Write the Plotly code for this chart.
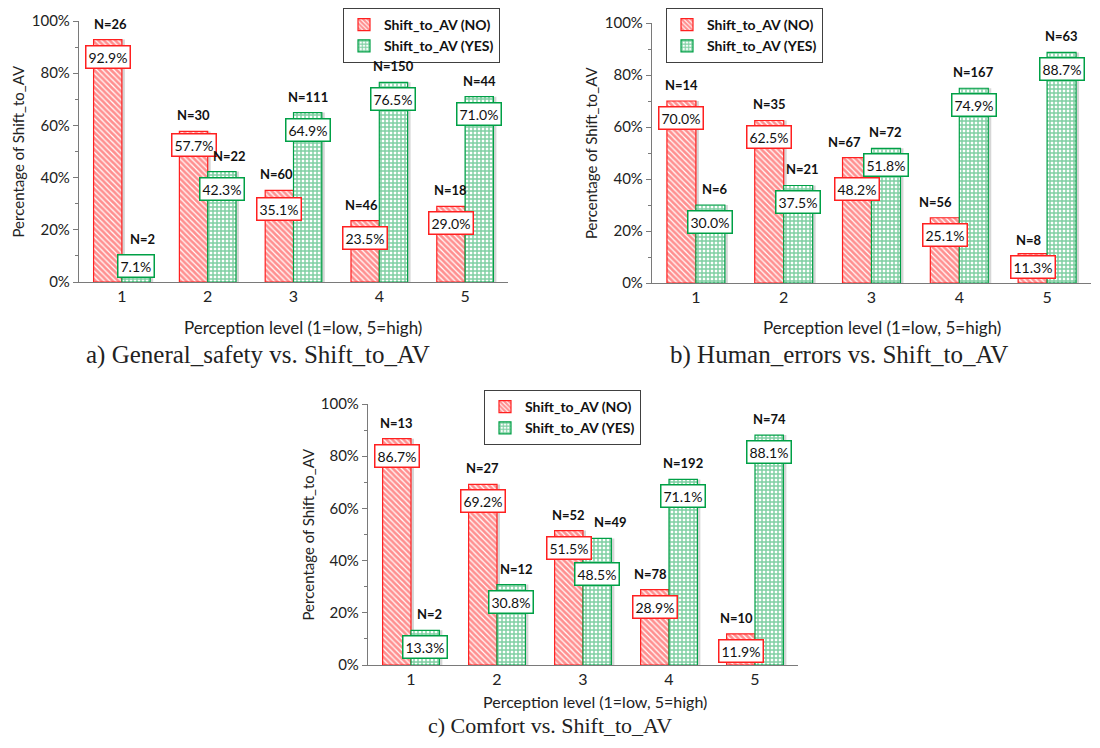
import plotly.graph_objects as go

levels = [1, 2, 3, 4, 5]
tick_labels = ["1", "2", "3", "4", "5"]

a_no = [92.9, 57.7, 35.1, 23.5, 29.0]
a_no_n = [26, 30, 60, 46, 18]
a_yes = [7.1, 42.3, 64.9, 76.5, 71.0]
a_yes_n = [2, 22, 111, 150, 44]

b_no = [70.0, 62.5, 48.2, 25.1, 11.3]
b_no_n = [14, 35, 67, 56, 8]
b_yes = [30.0, 37.5, 51.8, 74.9, 88.7]
b_yes_n = [6, 21, 72, 167, 63]

c_no = [86.7, 69.2, 51.5, 28.9, 11.9]
c_no_n = [13, 27, 52, 78, 10]
c_yes = [13.3, 30.8, 48.5, 71.1, 88.1]
c_yes_n = [2, 12, 49, 192, 74]

captions = ["a) General_safety vs. Shift_to_AV",
            "b) Human_errors vs. Shift_to_AV",
            "c) Comfort vs. Shift_to_AV"]
name_no = "Shift_to_AV (NO)"
name_yes = "Shift_to_AV (YES)"
y_title = "Percentage of Shift_to_AV"
x_title = "Perception level (1=low, 5=high)"

RED = "#ff2020"
GREEN = "#00a046"
FONT = "Lato"
OFF = 8              # page body margin
W, H = 1100 - 2 * OFF, 748 - 2 * OFF


def fx(px):
    return (px - OFF) / W


def fy(py):
    return 1 - (py - OFF) / H


# panel geometry in screen pixels: (x_left, x_right, y_top(100%), y_bottom(0%))
panels = [
    dict(px=(79, 508, 21, 282), no=a_no, non=a_no_n, yes=a_yes, yesn=a_yes_n,
         legend=(343, 8), xt=(303, 327), xtsize=17, cap=(258, 355), capsize=25),
    dict(px=(652, 1091, 23, 283), no=b_no, non=b_no_n, yes=b_yes, yesn=b_yes_n,
         legend=(666, 8), xt=(882, 327), xtsize=17, cap=(839, 355), capsize=25),
    dict(px=(368, 798, 404, 665), no=c_no, non=c_no_n, yes=c_yes, yesn=c_yes_n,
         legend=(484, 390), xt=(595, 701), xtsize=16, cap=(550, None), capsize=22),
]

# manual label nudges (panel, series 0=NO/1=YES, level index) -> pixels
box_nudge = {(0, 0, 1): 3, (0, 0, 2): -2, (1, 0, 2): -14, (2, 1, 2): -19}
n_xnudge = {(0, 1, 0): 6, (0, 1, 1): 8, (1, 1, 0): 5, (1, 1, 1): 4,
            (1, 0, 2): -13, (1, 0, 3): -9, (1, 0, 4): -4, (2, 1, 0): 4,
            (2, 1, 1): 5, (2, 1, 2): 13, (2, 0, 3): -4, (2, 0, 4): -4,
            (0, 0, 3): -4, (0, 0, 0): 3, (0, 0, 2): -3}

fig = go.Figure()
annotations = []
bw = 0.33

for i, p in enumerate(panels):
    sfx = "" if i == 0 else str(i + 1)
    xa, ya = "x" + sfx, "y" + sfx
    leg = "legend" + sfx
    x0, x1, yt, yb = p["px"]
    ppu_x = (x1 - x0) / 5.0
    ppu_y = (yb - yt) / 100.0
    sh = 3.0 / ppu_x
    # shadows
    for vals, off in ((p["no"], -bw), (p["yes"], 0.0)):
        fig.add_trace(go.Bar(x=levels, y=vals, offset=off + sh, width=bw,
                             marker=dict(color="rgba(0,0,0,0.16)", line=dict(width=0)),
                             showlegend=False, hoverinfo="skip", xaxis=xa, yaxis=ya))
    fig.add_trace(go.Bar(x=levels, y=p["no"], offset=-bw, width=bw, name=name_no,
                         marker=dict(color="white",
                                     line=dict(color=RED, width=1.2),
                                     pattern=dict(shape="\\", fgcolor=RED, bgcolor="white",
                                                  size=4, solidity=0.7)),
                         xaxis=xa, yaxis=ya, legend=leg))
    fig.add_trace(go.Bar(x=levels, y=p["yes"], offset=0.0, width=bw, name=name_yes,
                         marker=dict(color="white",
                                     line=dict(color=GREEN, width=1.2),
                                     pattern=dict(shape="+", fgcolor=GREEN, bgcolor="white",
                                                  size=4, solidity=0.6)),
                         xaxis=xa, yaxis=ya, legend=leg))

    dom_x = [fx(x0), fx(x1)]
    dom_y = [fy(yb), fy(yt)]
    fig.update_layout(**{
        "xaxis" + sfx: dict(domain=dom_x, range=[0.5, 5.5], anchor=ya, automargin=False,
                            tickmode="array", tickvals=levels, ticktext=tick_labels,
                            showline=True, linecolor="#7a7a7a", linewidth=1.2,
                            ticks="", showgrid=False, zeroline=False,
                            tickfont=dict(family=FONT, size=16, color="#222")),
        "yaxis" + sfx: dict(domain=dom_y, range=[0, 100], anchor=xa, automargin=False,
                            dtick=20, ticksuffix="%", showline=True, linecolor="#7a7a7a",
                            linewidth=1.2, ticks="outside", ticklen=5, tickcolor="#7a7a7a",
                            minor=dict(dtick=10, ticks="outside", ticklen=3,
                                       tickcolor="#7a7a7a"),
                            showgrid=False, zeroline=False,
                            tickfont=dict(family=FONT, size=15, color="#222")),
        leg: dict(x=fx(p["legend"][0]), y=fy(p["legend"][1]),
                  xanchor="left", yanchor="top", bgcolor="white",
                  bordercolor="#404040", borderwidth=1,
                  font=dict(family=FONT, size=14, color="#111", weight="bold"),
                  itemwidth=30, tracegroupgap=0),
    })

    # labels
    for s, (vals, ns, off, col) in enumerate(((p["no"], p["non"], -bw / 2, RED),
                                              (p["yes"], p["yesn"], bw / 2, GREEN))):
        for k, (lv, v, n) in enumerate(zip(levels, vals, ns)):
            bar_px = v * ppu_y
            box_h = 22
            nx = n_xnudge.get((i, s, k), 0)
            if bar_px - 5 - box_h < 4:
                annotations.append(dict(x=lv + off, y=0, xref=xa, yref=ya,
                                         text=f"{v:.1f}%", showarrow=False,
                                         yanchor="bottom", yshift=4,
                                         bgcolor="white", bordercolor=col, borderwidth=1.5,
                                         borderpad=2,
                                         font=dict(family=FONT, size=14, color="#111")))
                annotations.append(dict(x=lv + off, y=0, xref=xa, yref=ya,
                                         text=f"N={n}", showarrow=False,
                                         yanchor="bottom", yshift=4 + box_h + 7,
                                         xshift=nx,
                                         font=dict(family=FONT, size=13, color="#111",
                                                   weight="bold")))
            else:
                dy = box_nudge.get((i, s, k), 0)
                annotations.append(dict(x=lv + off, y=v, xref=xa, yref=ya,
                                         text=f"{v:.1f}%", showarrow=False,
                                         yanchor="top", yshift=-5 + dy,
                                         bgcolor="white", bordercolor=col, borderwidth=1.5,
                                         borderpad=2,
                                         font=dict(family=FONT, size=14, color="#111")))
                annotations.append(dict(x=lv + off, y=v, xref=xa, yref=ya,
                                         text=f"N={n}", showarrow=False,
                                         yanchor="bottom", yshift=6, xshift=nx,
                                         font=dict(family=FONT, size=13, color="#111",
                                                   weight="bold")))

    # axis titles and caption
    annotations.append(dict(x=fx(x0 - 61), y=fy((yt + yb) / 2), xref="paper",
                            yref="paper", text=y_title, textangle=-90, showarrow=False,
                            xanchor="center", yanchor="middle",
                            font=dict(family=FONT, size=15, color="#222")))
    annotations.append(dict(x=fx(p["xt"][0]), y=fy(p["xt"][1]), xref="paper",
                            yref="paper", text=x_title, showarrow=False,
                            xanchor="center", yanchor="middle",
                            font=dict(family=FONT, size=p["xtsize"], color="#222")))
    cx, cy = p["cap"]
    if cy is None:
        annotations.append(dict(x=fx(cx), y=0, xref="paper", yref="paper",
                                text=captions[i], showarrow=False,
                                xanchor="center", yanchor="bottom",
                                font=dict(family="Liberation Serif", size=p["capsize"],
                                          color="#222")))
    else:
        annotations.append(dict(x=fx(cx), y=fy(cy), xref="paper", yref="paper",
                                text=captions[i], showarrow=False,
                                xanchor="center", yanchor="middle",
                                font=dict(family="Liberation Serif", size=p["capsize"],
                                          color="#222")))

fig.update_layout(width=W, height=H, margin=dict(l=0, r=0, t=0, b=0, autoexpand=False),
                  plot_bgcolor="white", paper_bgcolor="white",
                  barmode="overlay", annotations=annotations,
                  font=dict(family=FONT))

fig.write_html("out.html")
